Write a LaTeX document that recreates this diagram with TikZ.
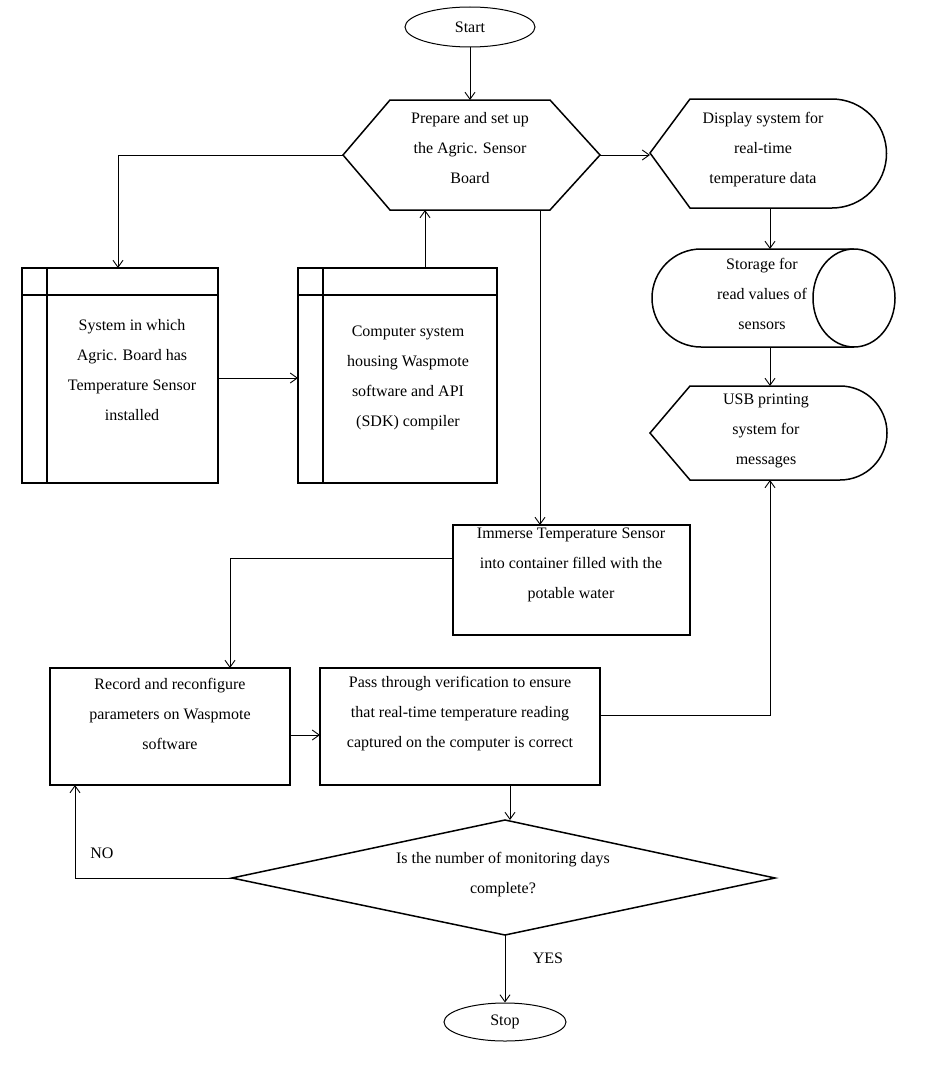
\documentclass[tikz,border=0pt]{standalone}
\usepackage{fontspec}
\setmainfont{Liberation Serif}
\usetikzlibrary{arrows.meta,shapes.geometric}
\begin{document}
\begin{tikzpicture}[x=1pt,y=-1pt,line width=1.5pt,
  arr/.style={-{Straight Barb[length=7pt,width=10pt,line width=0.9pt]},line width=0.9pt},
  txt/.style={align=center,font=\fontsize{16}{30}\selectfont}]
\useasboundingbox (0,0) rectangle (935,1065);
% Start
\node[ellipse,draw,line width=1pt,minimum width=130,minimum height=40,font=\fontsize{16}{18}\selectfont] (start) at (470,27) {Start};
% hexagon
\draw (343,155) -- (390,100) -- (550,100) -- (600,155) -- (550,210) -- (390,210) -- cycle;
\coordinate (hexL) at (343,155); \coordinate (hexR) at (600,155);
\node[txt] (prep) at (470,148) {Prepare and set up\\the Agric. Sensor\\Board};
% display
\draw (650,153) -- (690,99) -- (832,99) arc[start angle=90,end angle=-90,radius=54.5pt] -- (690,208) -- cycle;
\node[txt] (disp) at (763,150) {Display system for\\real-time\\temperature data};
% storage
\draw (701,249) -- (854,249) arc[start angle=90,end angle=-90,x radius=41pt,y radius=49pt] -- (701,347) arc[start angle=270,end angle=90,x radius=49pt,y radius=49pt];
\draw (854,249) arc[start angle=90,end angle=270,x radius=41pt,y radius=49pt];
\node[txt] (stor) at (762,294) {Storage for\\read values of\\sensors};
% USB
\draw (650,433) -- (690,386) -- (840,386) arc[start angle=90,end angle=-90,radius=47pt] -- (690,480) -- cycle;
\node[txt] (usb) at (766,431) {USB printing\\system for\\messages};
% box1
\draw (22,268) rectangle (218,483);
\draw (47,268) -- (47,483); \draw (22,295) -- (218,295);
\node[txt] (sys) at (132,370) {System in which\\Agric. Board has\\Temperature Sensor\\installed};
% box2
\draw (298,268) rectangle (497,483);
\draw (323,268) -- (323,483); \draw (298,295) -- (497,295);
\node[txt] (comp) at (408,378) {Computer system\\housing Waspmote\\software and API\\(SDK) compiler};
% immerse
\draw (453,525) rectangle (690,635);
\node[txt] (imm) at (571,565) {Immerse Temperature Sensor\\into container filled with the\\potable water};
% record
\draw (50,668) rectangle (290,785);
\node[txt] (rec) at (170,714) {Record and reconfigure\\parameters on Waspmote\\software};
% pass
\draw (320,668) rectangle (600,785);
\node[txt] (pass) at (460,714) {Pass through verification to ensure\\that real-time temperature reading\\captured on the computer is correct};
% diamond
\draw (232,878) -- (505,820) -- (775,878) -- (505,935) -- cycle;
\node[txt] (dec) at (503,875) {Is the number of monitoring days\\complete?};
% stop
\node[ellipse,draw,line width=1pt,minimum width=122,minimum height=38,font=\fontsize{16}{18}\selectfont] (stop) at (505,1022) {Stop};
% connectors
\draw[arr] (start) -- (470,100);
\draw[arr] (hexL) -- (118,155) -- (118,268);
\draw[arr] (218,378) -- (298,378);
\draw[arr] (425,268) -- (425,210);
\draw[arr] (hexR) -- (650,155);
\draw[arr] (770,208) -- (770,249);
\draw[arr] (770,347) -- (770,386);
\draw[arr] (540,210) -- (540,525);
\draw[arr] (453,558) -- (230,558) -- (230,668);
\draw[arr] (290,735) -- (320,735);
\draw[arr] (600,715) -- (770,715) -- (770,480);
\draw[arr] (510,785) -- (510,820);
\draw[arr] (232,878) -- (75,878) -- (75,785);
\draw[arr] (505,935) -- (stop);
\node[font=\fontsize{16}{18}\selectfont] (no) at (102,853) {NO};
\node[font=\fontsize{16}{18}\selectfont] (yes) at (548,958) {YES};
\end{tikzpicture}
\end{document}
